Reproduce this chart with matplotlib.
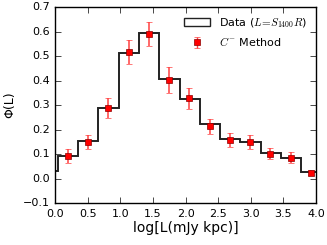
import matplotlib
matplotlib.use("Agg")
import matplotlib.pyplot as plt
import numpy as np

plt.style.use("classic")

# bin edges of the step histogram (log L)
edges = [-0.277, 0.035, 0.347, 0.659, 0.971, 1.283, 1.595, 1.907,
         2.219, 2.531, 2.843, 3.155, 3.467, 3.779, 4.091]
hist_vals = [0.031, 0.093, 0.153, 0.287, 0.511, 0.593, 0.405, 0.325,
             0.221, 0.160, 0.149, 0.103, 0.085, 0.025]

# C- method points
c_x = [0.19, 0.50, 0.81, 1.13, 1.44, 1.75, 2.06, 2.37, 2.68, 2.99, 3.30, 3.62, 3.93]
c_y = [0.093, 0.148, 0.289, 0.518, 0.589, 0.402, 0.327, 0.214, 0.157, 0.149, 0.101, 0.085, 0.024]
c_err = [0.029, 0.029, 0.040, 0.049, 0.049, 0.052, 0.041, 0.031, 0.029, 0.029, 0.023, 0.023, 0.010]

fig = plt.figure(figsize=(3.27, 2.45), dpi=100)
fig.patch.set_facecolor("white")
ax = fig.add_axes([0.169, 0.171, 0.797, 0.8])

centers = [(edges[i] + edges[i + 1]) / 2 for i in range(len(hist_vals))]
ax.hist(centers, bins=edges, weights=hist_vals, histtype="step",
        color="#222222", lw=1.4, label=r"Data ($L\!=\!S_{1400}R$)")
ax.errorbar(c_x, c_y, yerr=c_err, fmt="s", color="red", ms=5,
            mec="#8b0000", mew=0.5, ecolor="#ff4040", elinewidth=1.1,
            capsize=2, label=r"$C^{-}$ Method")

ax.set_xlim(0, 4)
ax.set_ylim(-0.1, 0.7)
ax.set_xticks(np.arange(0, 4.01, 0.5))
ax.set_yticks(np.arange(-0.1, 0.71, 0.1))
ax.tick_params(labelsize=8, direction="in")
ax.set_xlabel("log[L(mJy kpc)]", fontsize=10, labelpad=2)
ax.set_ylabel("Φ(L)", fontsize=9)

leg = ax.legend(loc="upper right", frameon=False, fontsize=8, numpoints=1,
                handlelength=2.3, borderaxespad=0.4)
for h in leg.legend_handles:
    if hasattr(h, "set_linewidth"):
        h.set_linewidth(1.0)

fig.savefig("out.png", dpi=100, facecolor="white")
